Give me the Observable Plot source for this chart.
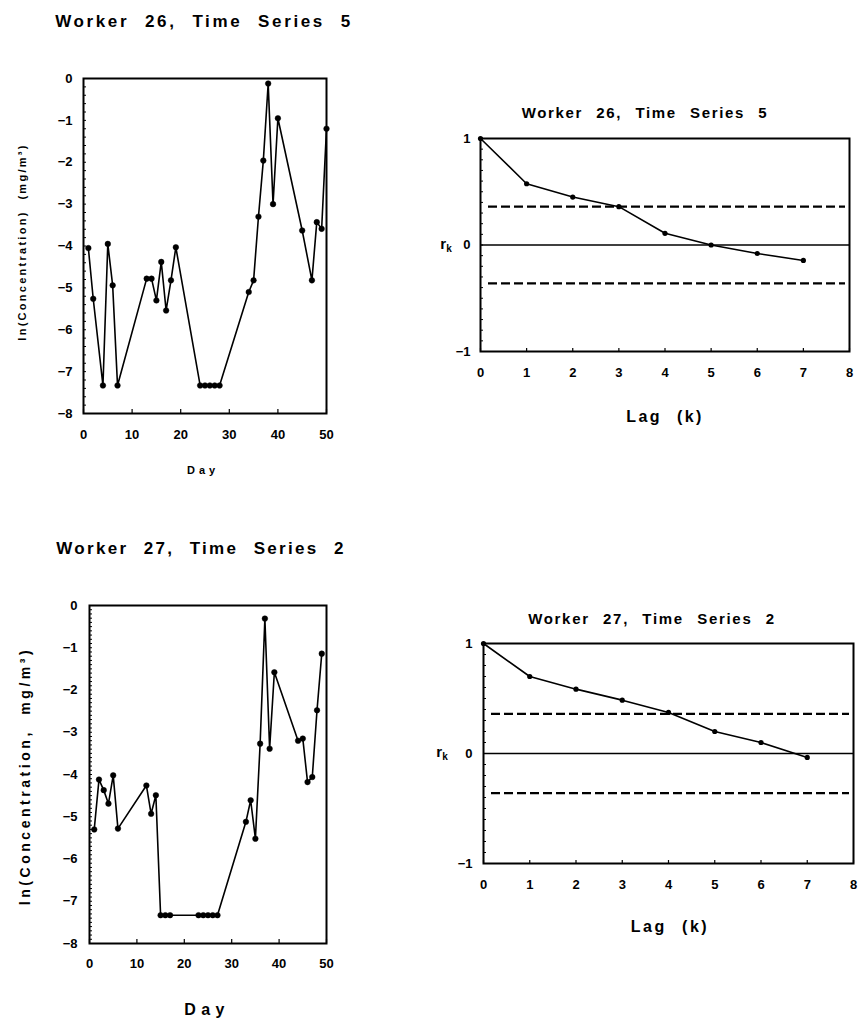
<!DOCTYPE html>
<html><head><meta charset="utf-8">
<script src="https://cdn.jsdelivr.net/npm/d3@7"></script>
<script src="https://cdn.jsdelivr.net/npm/@observablehq/plot@0.6"></script>
<style>
body{margin:0;background:#fff;}
#root{position:relative;width:859px;height:1018px;overflow:hidden;font-family:"Liberation Sans",Arial,sans-serif;font-weight:bold;color:#000;background:#fff;}
.abs{position:absolute;white-space:nowrap;line-height:1;}
.plot{position:absolute;}
</style></head><body><div id="root"></div>
<script>
// ---- Data ----
const titles = ["Worker 26, Time Series 5", "Worker 27, Time Series 2"];
const leftYLabels = ["ln(Concentration) (mg/m³)", "ln(Concentration, mg/m³)"];
const dayLabel = "Day";
const lagLabel = "Lag (k)";

const days26 = [1,2,4,5,6,7,13,14,15,16,17,18,19,24,25,26,27,28,34,35,36,37,38,39,40,45,47,48,49,50];
const conc26 = [-4.05,-5.26,-7.33,-3.95,-4.94,-7.33,-4.78,-4.78,-5.3,-4.38,-5.54,-4.82,-4.03,-7.33,-7.33,-7.33,-7.33,-7.33,-5.1,-4.82,-3.3,-1.96,-0.12,-3.0,-0.95,-3.63,-4.82,-3.43,-3.59,-1.2];

const days27 = [1,2,3,4,5,6,12,13,14,15,16,17,23,24,25,26,27,33,34,35,36,37,38,39,44,45,46,47,48,49];
const conc27 = [-5.3,-4.12,-4.37,-4.69,-4.02,-5.28,-4.26,-4.93,-4.49,-7.33,-7.33,-7.33,-7.33,-7.33,-7.33,-7.33,-7.33,-5.12,-4.61,-5.52,-3.27,-0.31,-3.39,-1.58,-3.2,-3.15,-4.18,-4.06,-2.48,-1.14];

const lags = [0,1,2,3,4,5,6,7];
const acf26 = [1,0.575,0.45,0.36,0.11,0.0,-0.08,-0.145];
const acf27 = [1,0.70,0.585,0.485,0.373,0.2,0.1,-0.036];
const confLimit26 = 0.36;
const confLimit27 = 0.36;

const dayTicks = [0,10,20,30,40,50];
const concTicks = [0,-1,-2,-3,-4,-5,-6,-7,-8];
const lagTicks = [0,1,2,3,4,5,6,7,8];
const rTicks = [-1,0,1];

// ---- Helpers ----
const root = document.getElementById("root");
const style = {fontFamily: "'Liberation Sans', Arial, sans-serif", fontWeight: "bold", fontSize: "13px", background: "white", color: "black", overflow: "visible"};
const intFmt = d => (d < 0 ? "\u2212" : "") + Math.abs(d);

function range(a, b, step) { return d3.range(Math.round((b - a) / step) + 1).map(i => a + i * step); }

function place(svg, left, top) {
  svg.classList.add("plot");
  svg.style.left = left + "px";
  svg.style.top = top + "px";
  root.appendChild(svg);
}

function seriesPlot(days, vals, b) {
  const data = days.map((d, i) => ({day: d, v: vals[i]}));
  const fw = b.w - b.ml - b.mr, fh = b.h - b.mt - b.mb;
  return Plot.plot({
    width: b.w, height: b.h, marginLeft: b.ml, marginRight: b.mr, marginTop: b.mt, marginBottom: b.mb,
    style,
    x: {domain: [0, 50]},
    y: {domain: [-8, 0]},
    marks: [
      Plot.axisX({ticks: dayTicks, tickSize: 0, tickPadding: b.xPad, tickFormat: intFmt, label: null}),
      Plot.axisY({ticks: concTicks, tickSize: 0, tickPadding: b.yPad, tickFormat: intFmt, label: null}),
      Plot.tickX(dayTicks, {x: d => d, insetTop: fh - 4, strokeWidth: 1.2}),
      Plot.tickY(range(-8, 0, b.yMinor), {y: d => d, insetRight: fw - 3, strokeWidth: 1}),
      Plot.line(data, {x: "day", y: "v", stroke: "black", strokeWidth: 1.6}),
      Plot.dot(data, {x: "day", y: "v", r: 2.8, fill: "black", stroke: "black", strokeWidth: 0.5}),
      Plot.frame({stroke: "black", strokeWidth: 2})
    ]
  });
}

function acfPlot(vals, conf, b) {
  const data = lags.map((k, i) => ({k, r: vals[i]}));
  const fw = b.w - b.ml - b.mr, fh = b.h - b.mt - b.mb;
  return Plot.plot({
    width: b.w, height: b.h, marginLeft: b.ml, marginRight: b.mr, marginTop: b.mt, marginBottom: b.mb,
    style,
    x: {domain: [0, 8]},
    y: {domain: [-1, 1]},
    marks: [
      Plot.axisX({ticks: lagTicks, tickSize: 0, tickPadding: b.xPad, tickFormat: intFmt, label: null}),
      Plot.axisY({ticks: rTicks, tickSize: 0, tickPadding: b.yPad, tickFormat: intFmt, label: null}),
      Plot.tickX(lagTicks, {x: d => d, insetTop: fh - 3, strokeWidth: 1.2}),
      Plot.tickY(range(-1, 1, 0.1), {y: d => d, insetRight: fw - 3, strokeWidth: 1}),
      Plot.ruleY([0], {stroke: "black", strokeWidth: 1.6}),
      Plot.ruleY([conf, -conf], {stroke: "black", strokeWidth: 2.2, strokeDasharray: "9,4", insetLeft: 8, insetRight: 4}),
      Plot.line(data, {x: "k", y: "r", stroke: "black", strokeWidth: 1.6}),
      Plot.dot(data, {x: "k", y: "r", r: 2.6, fill: "black"}),
      Plot.frame({stroke: "black", strokeWidth: 2})
    ]
  });
}

function addText(html, cx, cy, size, targetW, rotate) {
  const el = document.createElement("div");
  el.className = "abs";
  el.innerHTML = html;
  el.style.fontSize = size + "px";
  el.style.wordSpacing = (size * 0.5) + "px";
  root.appendChild(el);
  const chars = el.textContent.length;
  if (targetW) {
    const nat = el.getBoundingClientRect().width;
    const ls = Math.max(0, (targetW - nat) / Math.max(1, chars - 1));
    el.style.letterSpacing = ls + "px";
    el.style.marginRight = (-ls) + "px";
  }
  el.style.left = cx + "px";
  el.style.top = cy + "px";
  el.style.transform = "translate(-50%,-50%)" + (rotate ? " rotate(-90deg)" : "");
  return el;
}

// ---- Plots ----
place(seriesPlot(days26, conc26, {w: 345, h: 388, ml: 83, mr: 19, mt: 18, mb: 35, xPad: 16, yPad: 11, yMinor: 0.2}), 0, 60);
place(acfPlot(acf26, confLimit26, {w: 429, h: 266, ml: 50, mr: 10, mt: 18, mb: 35, xPad: 16, yPad: 10}), 430, 120);
place(seriesPlot(days27, conc27, {w: 345, h: 393, ml: 89, mr: 19, mt: 20, mb: 35, xPad: 15, yPad: 12, yMinor: 0.1}), 0, 585);
place(acfPlot(acf27, confLimit27, {w: 429, h: 273, ml: 53, mr: 6, mt: 18, mb: 35, xPad: 16, yPad: 11}), 430, 625);

// ---- Text ----
addText(titles[0], 204, 21, 17, 295);
addText(titles[0], 645, 112, 15, 245);
addText(titles[1], 201, 548, 17, 287);
addText(titles[1], 652, 618, 15, 246);

addText(leftYLabels[0], 22, 242, 11, 195, true);
addText(leftYLabels[1], 25, 776, 14, 255, true);

addText(dayLabel, 203, 470, 11, 28);
addText(dayLabel, 207, 1010, 16, 40);

addText(lagLabel, 665, 417, 16, 75);
addText(lagLabel, 670, 927, 16, 76);

addText("r<sub style='font-size:10px;vertical-align:-3px'>k</sub>", 446, 245, 15, 0);
addText("r<sub style='font-size:10px;vertical-align:-3px'>k</sub>", 442, 753, 15, 0);
</script></body></html>
